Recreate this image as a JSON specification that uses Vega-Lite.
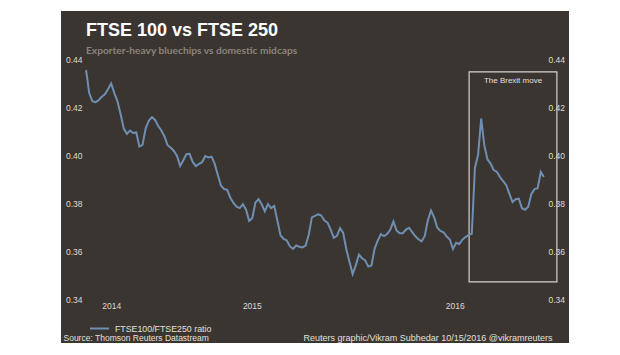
{
  "$schema": "https://vega.github.io/schema/vega-lite/v6.json",
  "width": 508,
  "height": 332,
  "autosize": {"type": "none"},
  "padding": {"left": 61, "top": 11, "right": 51, "bottom": 12},
  "background": "white",
  "config": {"view": {"fill": "#3a3531", "stroke": null}, "font": "Liberation Sans"},
  "title": {
    "text": "FTSE 100 vs FTSE 250",
    "subtitle": "Exporter-heavy bluechips vs domestic midcaps",
    "anchor": "start",
    "frame": "group",
    "offset": -45,
    "dx": 25,
    "color": "#ffffff",
    "font": "Liberation Sans",
    "fontSize": 18,
    "fontWeight": "bold",
    "subtitleColor": "#8a847e",
    "subtitleFont": "Lato",
    "subtitleFontWeight": "bold",
    "subtitleFontSize": 10.2,
    "subtitlePadding": 6
  },
  "datasets": {
    "ratio": [
      {"date": "2013-12-27", "ratio": 0.4354, "series": "FTSE100/FTSE250 ratio"},
      {"date": "2014-01-03", "ratio": 0.4258, "series": "FTSE100/FTSE250 ratio"},
      {"date": "2014-01-10", "ratio": 0.4224, "series": "FTSE100/FTSE250 ratio"},
      {"date": "2014-01-17", "ratio": 0.4220, "series": "FTSE100/FTSE250 ratio"},
      {"date": "2014-01-24", "ratio": 0.4228, "series": "FTSE100/FTSE250 ratio"},
      {"date": "2014-01-31", "ratio": 0.4243, "series": "FTSE100/FTSE250 ratio"},
      {"date": "2014-02-07", "ratio": 0.4253, "series": "FTSE100/FTSE250 ratio"},
      {"date": "2014-02-14", "ratio": 0.4275, "series": "FTSE100/FTSE250 ratio"},
      {"date": "2014-02-21", "ratio": 0.4298, "series": "FTSE100/FTSE250 ratio"},
      {"date": "2014-02-28", "ratio": 0.4258, "series": "FTSE100/FTSE250 ratio"},
      {"date": "2014-03-07", "ratio": 0.4224, "series": "FTSE100/FTSE250 ratio"},
      {"date": "2014-03-14", "ratio": 0.4171, "series": "FTSE100/FTSE250 ratio"},
      {"date": "2014-03-21", "ratio": 0.4111, "series": "FTSE100/FTSE250 ratio"},
      {"date": "2014-03-28", "ratio": 0.4088, "series": "FTSE100/FTSE250 ratio"},
      {"date": "2014-04-04", "ratio": 0.4102, "series": "FTSE100/FTSE250 ratio"},
      {"date": "2014-04-11", "ratio": 0.4092, "series": "FTSE100/FTSE250 ratio"},
      {"date": "2014-04-18", "ratio": 0.4094, "series": "FTSE100/FTSE250 ratio"},
      {"date": "2014-04-25", "ratio": 0.4035, "series": "FTSE100/FTSE250 ratio"},
      {"date": "2014-05-02", "ratio": 0.4042, "series": "FTSE100/FTSE250 ratio"},
      {"date": "2014-05-09", "ratio": 0.4111, "series": "FTSE100/FTSE250 ratio"},
      {"date": "2014-05-16", "ratio": 0.4143, "series": "FTSE100/FTSE250 ratio"},
      {"date": "2014-05-23", "ratio": 0.4158, "series": "FTSE100/FTSE250 ratio"},
      {"date": "2014-05-30", "ratio": 0.4146, "series": "FTSE100/FTSE250 ratio"},
      {"date": "2014-06-06", "ratio": 0.4121, "series": "FTSE100/FTSE250 ratio"},
      {"date": "2014-06-13", "ratio": 0.4102, "series": "FTSE100/FTSE250 ratio"},
      {"date": "2014-06-20", "ratio": 0.4077, "series": "FTSE100/FTSE250 ratio"},
      {"date": "2014-06-27", "ratio": 0.4041, "series": "FTSE100/FTSE250 ratio"},
      {"date": "2014-07-04", "ratio": 0.4030, "series": "FTSE100/FTSE250 ratio"},
      {"date": "2014-07-11", "ratio": 0.4017, "series": "FTSE100/FTSE250 ratio"},
      {"date": "2014-07-18", "ratio": 0.3996, "series": "FTSE100/FTSE250 ratio"},
      {"date": "2014-07-25", "ratio": 0.3954, "series": "FTSE100/FTSE250 ratio"},
      {"date": "2014-08-01", "ratio": 0.3978, "series": "FTSE100/FTSE250 ratio"},
      {"date": "2014-08-08", "ratio": 0.4003, "series": "FTSE100/FTSE250 ratio"},
      {"date": "2014-08-15", "ratio": 0.4005, "series": "FTSE100/FTSE250 ratio"},
      {"date": "2014-08-22", "ratio": 0.3971, "series": "FTSE100/FTSE250 ratio"},
      {"date": "2014-08-29", "ratio": 0.3954, "series": "FTSE100/FTSE250 ratio"},
      {"date": "2014-09-05", "ratio": 0.3963, "series": "FTSE100/FTSE250 ratio"},
      {"date": "2014-09-12", "ratio": 0.3970, "series": "FTSE100/FTSE250 ratio"},
      {"date": "2014-09-19", "ratio": 0.3996, "series": "FTSE100/FTSE250 ratio"},
      {"date": "2014-09-26", "ratio": 0.3990, "series": "FTSE100/FTSE250 ratio"},
      {"date": "2014-10-03", "ratio": 0.3993, "series": "FTSE100/FTSE250 ratio"},
      {"date": "2014-10-10", "ratio": 0.3964, "series": "FTSE100/FTSE250 ratio"},
      {"date": "2014-10-17", "ratio": 0.3918, "series": "FTSE100/FTSE250 ratio"},
      {"date": "2014-10-24", "ratio": 0.3873, "series": "FTSE100/FTSE250 ratio"},
      {"date": "2014-10-31", "ratio": 0.3858, "series": "FTSE100/FTSE250 ratio"},
      {"date": "2014-11-07", "ratio": 0.3855, "series": "FTSE100/FTSE250 ratio"},
      {"date": "2014-11-14", "ratio": 0.3822, "series": "FTSE100/FTSE250 ratio"},
      {"date": "2014-11-21", "ratio": 0.3800, "series": "FTSE100/FTSE250 ratio"},
      {"date": "2014-11-28", "ratio": 0.3785, "series": "FTSE100/FTSE250 ratio"},
      {"date": "2014-12-05", "ratio": 0.3779, "series": "FTSE100/FTSE250 ratio"},
      {"date": "2014-12-12", "ratio": 0.3795, "series": "FTSE100/FTSE250 ratio"},
      {"date": "2014-12-19", "ratio": 0.3773, "series": "FTSE100/FTSE250 ratio"},
      {"date": "2014-12-26", "ratio": 0.3725, "series": "FTSE100/FTSE250 ratio"},
      {"date": "2015-01-02", "ratio": 0.3737, "series": "FTSE100/FTSE250 ratio"},
      {"date": "2015-01-09", "ratio": 0.3802, "series": "FTSE100/FTSE250 ratio"},
      {"date": "2015-01-16", "ratio": 0.3816, "series": "FTSE100/FTSE250 ratio"},
      {"date": "2015-01-23", "ratio": 0.3794, "series": "FTSE100/FTSE250 ratio"},
      {"date": "2015-01-30", "ratio": 0.3765, "series": "FTSE100/FTSE250 ratio"},
      {"date": "2015-02-06", "ratio": 0.3795, "series": "FTSE100/FTSE250 ratio"},
      {"date": "2015-02-13", "ratio": 0.3779, "series": "FTSE100/FTSE250 ratio"},
      {"date": "2015-02-20", "ratio": 0.3788, "series": "FTSE100/FTSE250 ratio"},
      {"date": "2015-02-27", "ratio": 0.3727, "series": "FTSE100/FTSE250 ratio"},
      {"date": "2015-03-06", "ratio": 0.3665, "series": "FTSE100/FTSE250 ratio"},
      {"date": "2015-03-13", "ratio": 0.3650, "series": "FTSE100/FTSE250 ratio"},
      {"date": "2015-03-20", "ratio": 0.3644, "series": "FTSE100/FTSE250 ratio"},
      {"date": "2015-03-27", "ratio": 0.3619, "series": "FTSE100/FTSE250 ratio"},
      {"date": "2015-04-03", "ratio": 0.3609, "series": "FTSE100/FTSE250 ratio"},
      {"date": "2015-04-10", "ratio": 0.3623, "series": "FTSE100/FTSE250 ratio"},
      {"date": "2015-04-17", "ratio": 0.3618, "series": "FTSE100/FTSE250 ratio"},
      {"date": "2015-04-24", "ratio": 0.3615, "series": "FTSE100/FTSE250 ratio"},
      {"date": "2015-05-01", "ratio": 0.3623, "series": "FTSE100/FTSE250 ratio"},
      {"date": "2015-05-08", "ratio": 0.3668, "series": "FTSE100/FTSE250 ratio"},
      {"date": "2015-05-15", "ratio": 0.3740, "series": "FTSE100/FTSE250 ratio"},
      {"date": "2015-05-22", "ratio": 0.3746, "series": "FTSE100/FTSE250 ratio"},
      {"date": "2015-05-29", "ratio": 0.3753, "series": "FTSE100/FTSE250 ratio"},
      {"date": "2015-06-05", "ratio": 0.3748, "series": "FTSE100/FTSE250 ratio"},
      {"date": "2015-06-12", "ratio": 0.3727, "series": "FTSE100/FTSE250 ratio"},
      {"date": "2015-06-19", "ratio": 0.3718, "series": "FTSE100/FTSE250 ratio"},
      {"date": "2015-06-26", "ratio": 0.3689, "series": "FTSE100/FTSE250 ratio"},
      {"date": "2015-07-03", "ratio": 0.3655, "series": "FTSE100/FTSE250 ratio"},
      {"date": "2015-07-10", "ratio": 0.3663, "series": "FTSE100/FTSE250 ratio"},
      {"date": "2015-07-17", "ratio": 0.3695, "series": "FTSE100/FTSE250 ratio"},
      {"date": "2015-07-24", "ratio": 0.3675, "series": "FTSE100/FTSE250 ratio"},
      {"date": "2015-07-31", "ratio": 0.3606, "series": "FTSE100/FTSE250 ratio"},
      {"date": "2015-08-07", "ratio": 0.3555, "series": "FTSE100/FTSE250 ratio"},
      {"date": "2015-08-14", "ratio": 0.3504, "series": "FTSE100/FTSE250 ratio"},
      {"date": "2015-08-21", "ratio": 0.3540, "series": "FTSE100/FTSE250 ratio"},
      {"date": "2015-08-28", "ratio": 0.3585, "series": "FTSE100/FTSE250 ratio"},
      {"date": "2015-09-04", "ratio": 0.3570, "series": "FTSE100/FTSE250 ratio"},
      {"date": "2015-09-11", "ratio": 0.3561, "series": "FTSE100/FTSE250 ratio"},
      {"date": "2015-09-18", "ratio": 0.3535, "series": "FTSE100/FTSE250 ratio"},
      {"date": "2015-09-25", "ratio": 0.3540, "series": "FTSE100/FTSE250 ratio"},
      {"date": "2015-10-02", "ratio": 0.3609, "series": "FTSE100/FTSE250 ratio"},
      {"date": "2015-10-09", "ratio": 0.3643, "series": "FTSE100/FTSE250 ratio"},
      {"date": "2015-10-16", "ratio": 0.3670, "series": "FTSE100/FTSE250 ratio"},
      {"date": "2015-10-23", "ratio": 0.3662, "series": "FTSE100/FTSE250 ratio"},
      {"date": "2015-10-30", "ratio": 0.3671, "series": "FTSE100/FTSE250 ratio"},
      {"date": "2015-11-06", "ratio": 0.3688, "series": "FTSE100/FTSE250 ratio"},
      {"date": "2015-11-13", "ratio": 0.3723, "series": "FTSE100/FTSE250 ratio"},
      {"date": "2015-11-20", "ratio": 0.3686, "series": "FTSE100/FTSE250 ratio"},
      {"date": "2015-11-27", "ratio": 0.3674, "series": "FTSE100/FTSE250 ratio"},
      {"date": "2015-12-04", "ratio": 0.3674, "series": "FTSE100/FTSE250 ratio"},
      {"date": "2015-12-11", "ratio": 0.3689, "series": "FTSE100/FTSE250 ratio"},
      {"date": "2015-12-18", "ratio": 0.3697, "series": "FTSE100/FTSE250 ratio"},
      {"date": "2015-12-25", "ratio": 0.3679, "series": "FTSE100/FTSE250 ratio"},
      {"date": "2016-01-01", "ratio": 0.3661, "series": "FTSE100/FTSE250 ratio"},
      {"date": "2016-01-08", "ratio": 0.3649, "series": "FTSE100/FTSE250 ratio"},
      {"date": "2016-01-15", "ratio": 0.3640, "series": "FTSE100/FTSE250 ratio"},
      {"date": "2016-01-22", "ratio": 0.3663, "series": "FTSE100/FTSE250 ratio"},
      {"date": "2016-01-29", "ratio": 0.3728, "series": "FTSE100/FTSE250 ratio"},
      {"date": "2016-02-05", "ratio": 0.3769, "series": "FTSE100/FTSE250 ratio"},
      {"date": "2016-02-12", "ratio": 0.3740, "series": "FTSE100/FTSE250 ratio"},
      {"date": "2016-02-19", "ratio": 0.3697, "series": "FTSE100/FTSE250 ratio"},
      {"date": "2016-02-26", "ratio": 0.3684, "series": "FTSE100/FTSE250 ratio"},
      {"date": "2016-03-04", "ratio": 0.3678, "series": "FTSE100/FTSE250 ratio"},
      {"date": "2016-03-11", "ratio": 0.3660, "series": "FTSE100/FTSE250 ratio"},
      {"date": "2016-03-18", "ratio": 0.3648, "series": "FTSE100/FTSE250 ratio"},
      {"date": "2016-03-25", "ratio": 0.3608, "series": "FTSE100/FTSE250 ratio"},
      {"date": "2016-04-01", "ratio": 0.3634, "series": "FTSE100/FTSE250 ratio"},
      {"date": "2016-04-08", "ratio": 0.3629, "series": "FTSE100/FTSE250 ratio"},
      {"date": "2016-04-15", "ratio": 0.3647, "series": "FTSE100/FTSE250 ratio"},
      {"date": "2016-04-22", "ratio": 0.3658, "series": "FTSE100/FTSE250 ratio"},
      {"date": "2016-04-29", "ratio": 0.3667, "series": "FTSE100/FTSE250 ratio"},
      {"date": "2016-05-06", "ratio": 0.3672, "series": "FTSE100/FTSE250 ratio"},
      {"date": "2016-05-13", "ratio": 0.3946, "series": "FTSE100/FTSE250 ratio"},
      {"date": "2016-05-20", "ratio": 0.4000, "series": "FTSE100/FTSE250 ratio"},
      {"date": "2016-05-27", "ratio": 0.4152, "series": "FTSE100/FTSE250 ratio"},
      {"date": "2016-06-03", "ratio": 0.4040, "series": "FTSE100/FTSE250 ratio"},
      {"date": "2016-06-10", "ratio": 0.3982, "series": "FTSE100/FTSE250 ratio"},
      {"date": "2016-06-17", "ratio": 0.3964, "series": "FTSE100/FTSE250 ratio"},
      {"date": "2016-06-24", "ratio": 0.3937, "series": "FTSE100/FTSE250 ratio"},
      {"date": "2016-07-01", "ratio": 0.3930, "series": "FTSE100/FTSE250 ratio"},
      {"date": "2016-07-08", "ratio": 0.3908, "series": "FTSE100/FTSE250 ratio"},
      {"date": "2016-07-15", "ratio": 0.3891, "series": "FTSE100/FTSE250 ratio"},
      {"date": "2016-07-22", "ratio": 0.3874, "series": "FTSE100/FTSE250 ratio"},
      {"date": "2016-07-29", "ratio": 0.3838, "series": "FTSE100/FTSE250 ratio"},
      {"date": "2016-08-05", "ratio": 0.3804, "series": "FTSE100/FTSE250 ratio"},
      {"date": "2016-08-12", "ratio": 0.3816, "series": "FTSE100/FTSE250 ratio"},
      {"date": "2016-08-19", "ratio": 0.3818, "series": "FTSE100/FTSE250 ratio"},
      {"date": "2016-08-26", "ratio": 0.3778, "series": "FTSE100/FTSE250 ratio"},
      {"date": "2016-09-02", "ratio": 0.3772, "series": "FTSE100/FTSE250 ratio"},
      {"date": "2016-09-09", "ratio": 0.3784, "series": "FTSE100/FTSE250 ratio"},
      {"date": "2016-09-16", "ratio": 0.3838, "series": "FTSE100/FTSE250 ratio"},
      {"date": "2016-09-23", "ratio": 0.3858, "series": "FTSE100/FTSE250 ratio"},
      {"date": "2016-09-30", "ratio": 0.3862, "series": "FTSE100/FTSE250 ratio"},
      {"date": "2016-10-07", "ratio": 0.3929, "series": "FTSE100/FTSE250 ratio"},
      {"date": "2016-10-14", "ratio": 0.3908, "series": "FTSE100/FTSE250 ratio"}
    ],
    "box": [
      {"start": "2016-04-30", "end": "2016-11-12", "low": 0.3471, "high": 0.4346, "label": "The Brexit move", "mid": "2016-08-06", "labelAt": 0.4308}
    ]
  },
  "layer": [
    {
      "data": {"name": "box"},
      "mark": {"type": "rect", "fill": null, "fillOpacity": 0, "stroke": "#d6d2cc", "strokeWidth": 1.2},
      "encoding": {
        "x": {
          "field": "start", "type": "temporal",
          "scale": {"domain": ["2013-11-01", "2016-12-09"]},
          "axis": {
            "orient": "bottom",
            "offset": -44,
            "values": ["2014-02-21", "2015-01-01", "2016-03-29"],
            "format": "%Y",
            "domain": false,
            "ticks": false,
            "grid": false,
            "labelPadding": 2,
            "labelColor": "#dedad5",
            "labelFont": "Liberation Sans",
            "labelFontSize": 8.5,
            "labelAlign": "center",
            "labelBaseline": "top",
            "title": "Reuters graphic/Vikram Subhedar 10/15/2016  @vikramreuters",
            "titleFont": "Liberation Sans",
            "titleFontSize": 9,
            "titleFontWeight": "normal",
            "titleColor": "#e4e0db",
            "titleAlign": "right",
            "titleAnchor": null,
            "titleBaseline": "alphabetic",
            "titleX": 491,
            "titleY": 41
          }
        },
        "x2": {"field": "end"},
        "y": {
          "field": "low", "type": "quantitative",
          "scale": {"domain": [0.321667, 0.46], "nice": false, "zero": false},
          "axis": {
            "orient": "right",
            "offset": -23,
            "values": [0.34, 0.36, 0.38, 0.4, 0.42, 0.44],
            "format": ".2f",
            "domain": false,
            "ticks": false,
            "grid": false,
            "labelPadding": 2,
            "labelColor": "#dedad5",
            "labelFont": "Liberation Sans",
            "labelFontSize": 8.5,
            "title": null
          }
        },
        "y2": {"field": "high"}
      }
    },
    {
      "data": {"name": "box"},
      "mark": {"type": "text", "color": "#e4e0db", "font": "Liberation Sans", "fontSize": 8, "align": "center", "baseline": "middle"},
      "encoding": {
        "x": {"field": "mid", "type": "temporal"},
        "y": {"field": "labelAt", "type": "quantitative", "axis": null},
        "text": {"field": "label"}
      }
    },
    {
      "data": {"name": "ratio"},
      "mark": {"type": "line", "strokeWidth": 2, "interpolate": "linear"},
      "encoding": {
        "x": {"field": "date", "type": "temporal"},
        "y": {
          "field": "ratio", "type": "quantitative",
          "axis": {
            "orient": "left",
            "offset": -24,
            "values": [0.34, 0.36, 0.38, 0.4, 0.42, 0.44],
            "format": ".2f",
            "domain": false,
            "ticks": false,
            "grid": false,
            "labelPadding": 3,
            "labelColor": "#dedad5",
            "labelFont": "Liberation Sans",
            "labelFontSize": 8.5,
            "title": "Source: Thomson Reuters Datastream",
            "titleAngle": 0,
            "titleFont": "Liberation Sans",
            "titleFontSize": 8.5,
            "titleFontWeight": "normal",
            "titleColor": "#e4e0db",
            "titleAlign": "left",
            "titleAnchor": null,
            "titleBaseline": "alphabetic",
            "titleX": -22,
            "titleY": 329
          }
        },
        "color": {
          "field": "series", "type": "nominal",
          "scale": {"range": ["#6f8fb2"]},
          "legend": {
            "orient": "none",
            "legendX": 28,
            "legendY": 307,
            "title": null,
            "symbolType": "stroke",
            "symbolSize": 361,
            "symbolStrokeWidth": 2,
            "labelColor": "#e4e0db",
            "labelFont": "Liberation Sans",
            "labelFontSize": 8.8,
            "labelOffset": 5,
            "padding": 0
          }
        }
      }
    }
  ],
  "resolve": {"axis": {"y": "independent"}}
}
